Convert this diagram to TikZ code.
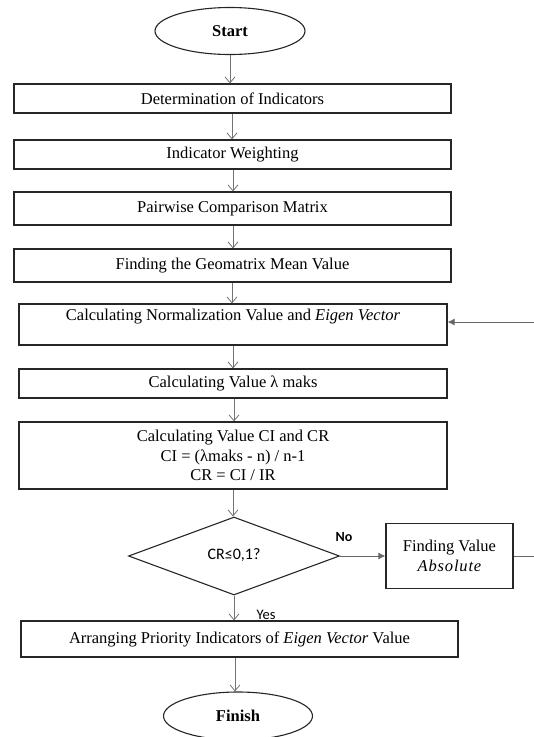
\documentclass[tikz,border=0pt]{standalone}
\usepackage{fontspec}
\setmainfont{Liberation Serif}
\newfontfamily\calib{Carlito}
\usetikzlibrary{arrows.meta,shapes.geometric}
\begin{document}
\begin{tikzpicture}[x=1pt,y=-1pt,
  every node/.style={font=\fontsize{16.5}{19.5}\selectfont},
  pbox/.style={draw=black!85,line width=1.1pt,rectangle,inner sep=0pt,align=center},
  term/.style={draw=black!85,line width=1.1pt,ellipse,inner sep=0pt,font=\fontsize{16.5}{19.5}\selectfont\bfseries},
  dec/.style={draw=black!85,line width=1.1pt,diamond,inner sep=0pt,aspect=2.7},
  flow/.style={draw=black!55,line width=0.8pt,-{Straight Barb[length=6pt,width=10pt,line width=0.8pt]}},
  back/.style={draw=black!60,line width=1pt,-{Latex[length=7pt,width=7pt]}},
  lbl/.style={font=\calib\fontsize{14.5}{17}\selectfont}
]
\useasboundingbox (0,0) rectangle (534,737);
\node[term,minimum width=150,minimum height=47] (start) at (230,31) {Start};
\node[pbox,minimum width=437,minimum height=29] (b1) at (232.5,98.5) {Determination of Indicators};
\node[pbox,minimum width=437,minimum height=29] (b2) at (232.5,154.5) {Indicator Weighting};
\node[pbox,minimum width=437,minimum height=33] (b3) at (232.5,208.5) {Pairwise Comparison Matrix};
\node[pbox,minimum width=437,minimum height=33] (b4) at (232.5,265.5) {Finding the Geomatrix Mean Value};
\node[pbox,minimum width=428,minimum height=41] (b5) at (233,324.5) {Calculating Normalization Value and \textit{Eigen Vector}\\[-1pt] \mbox{}};
\node[pbox,minimum width=428,minimum height=29] (b6) at (233,383.5) {Calculating Value λ maks};
\node[pbox,minimum width=428,minimum height=67] (b7) at (233,455.5) {Calculating Value CI and CR\\ CI = (λmaks - n) / n-1\\ CR = CI / IR};
\node[dec,minimum width=211,minimum height=78] (d) at (234,556) {};
\node[font=\calib\fontsize{16}{19}\selectfont] at (234,555) {CR≤0,1?};
\node[pbox,minimum width=127,minimum height=65] (abs) at (449.5,556) {Finding Value\\ {\itshape\addfontfeatures{LetterSpace=5}Absolute}};
\node[pbox,minimum width=437,minimum height=36] (b8) at (239.5,639) {Arranging Priority Indicators of \textit{Eigen Vector} Value};
\node[term,minimum width=149,minimum height=48] (finish) at (238,716) {Finish};
\coordinate (eR) at (534,556);
\coordinate (eB) at (534,322);
\draw[flow] (start.south) -- (b1.north -| start.south);
\draw[flow] (b1.south -| 232,0) -- (b2.north -| 232,0);
\draw[flow] (b2.south -| 233,0) -- (b3.north -| 233,0);
\draw[flow] (b3.south -| 233,0) -- (b4.north -| 233,0);
\draw[flow] (b4.south -| 232,0) -- (b5.north -| 232,0);
\draw[flow] (b5.south -| 233,0) -- (b6.north -| 233,0);
\draw[flow] (b6.south -| 234,0) -- (b7.north -| 234,0);
\draw[flow] (b7.south -| 233,0) -- (d.north -| 233,0);
\draw[flow] (d.south) -- (b8.north -| d.south);
\draw[flow] (b8.south -| 235,0) -- (finish.north -| 235,0);
\draw[back] (d.east) -- (abs.west);
\draw[draw=black!60,line width=1pt] (abs.east) -- (eR);
\draw[back] (eB) -- (b5.east |- eB);
\node[lbl,font=\calib\bfseries\fontsize{14}{17}\selectfont] at (344,537) {No};
\node[lbl] at (266,615) {Yes};
\end{tikzpicture}
\end{document}
